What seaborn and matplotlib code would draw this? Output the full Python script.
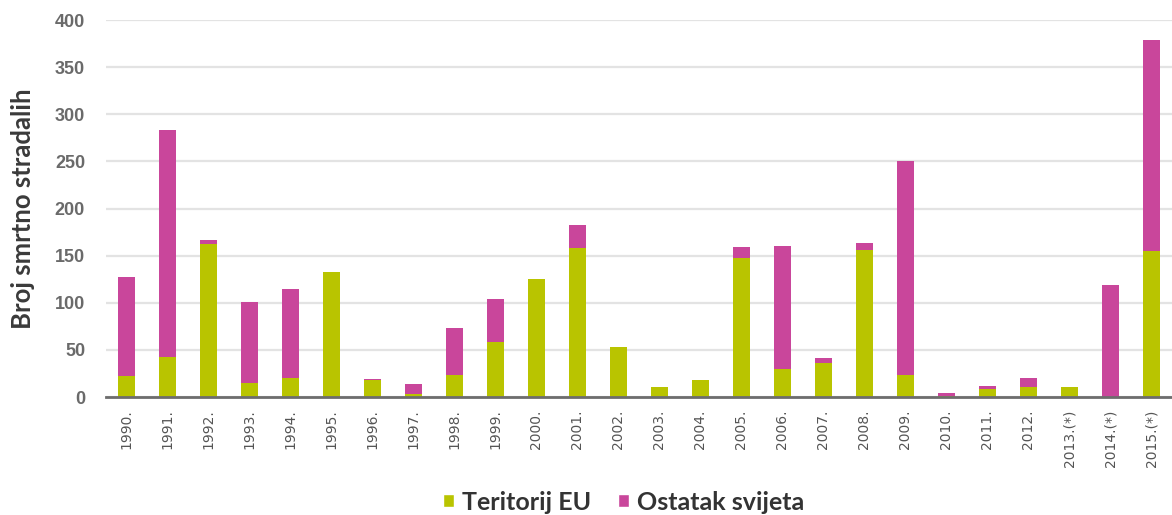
import pandas as pd
import numpy as np

import matplotlib.pyplot as plt
import seaborn as sns
from matplotlib.patches import Patch

# Podaci procitani sa grafikona
godine = ['1990.', '1991.', '1992.', '1993.', '1994.', '1995.', '1996.', '1997.',
          '1998.', '1999.', '2000.', '2001.', '2002.', '2003.', '2004.', '2005.',
          '2006.', '2007.', '2008.', '2009.', '2010.', '2011.', '2012.',
          '2013.(*)', '2014.(*)', '2015.(*)']
teritorij_eu = [22, 42, 162, 15, 20, 133, 18, 3, 23, 58, 125, 158, 53, 11, 18, 148,
                30, 36, 156, 23, 1, 9, 11, 11, 0, 155]
ostatak_svijeta = [105, 241, 5, 86, 95, 0, 1, 11, 50, 46, 0, 25, 0, 0, 0, 11,
                   130, 5, 8, 227, 3, 3, 9, 0, 119, 224]

zelena = '#b9c400'
roza = '#c9469b'

data = pd.DataFrame({'godina': godine, 'eu': teritorij_eu, 'ostalo': ostatak_svijeta})
data['ukupno'] = data['eu'] + data['ostalo']

sns.set_style('white')

fig = plt.figure(figsize=(11.72, 5.15), dpi=100)
ax = fig.add_axes([0.0904, 0.229, 0.9096, 0.732])

# naslagani stupci: prvo ukupno (roza), pa EU preko (zelena)
sns.barplot(data=data, x='godina', y='ukupno', color=roza, width=0.4,
            saturation=1, linewidth=0, ax=ax, zorder=3)
sns.barplot(data=data, x='godina', y='eu', color=zelena, width=0.4,
            saturation=1, linewidth=0, ax=ax, zorder=4)

ax.set_ylim(0, 400)
ax.set_xlim(-0.5, len(godine) - 0.5)
ax.set_yticks(np.arange(0, 401, 50))
ax.yaxis.grid(True, color='#e3e3e3', linewidth=1.6, zorder=0)
ax.set_axisbelow(True)

for s in ['top', 'right', 'left']:
    ax.spines[s].set_visible(False)
ax.spines['bottom'].set_color('#6d6d6d')
ax.spines['bottom'].set_linewidth(2)
ax.spines['bottom'].set_zorder(5)

ax.set_xticks(range(len(godine)))
ax.set_xticklabels(godine, rotation=90, fontsize=10, color='#555555')
ax.set_xticks(np.arange(0.5, len(godine) - 1, 1), minor=True)
ax.tick_params(axis='x', which='major', length=0, pad=9)
ax.tick_params(axis='x', which='minor', length=4, width=1.2, color='#6d6d6d', direction='out')
ax.tick_params(axis='y', length=0, pad=15)
for t in ax.get_yticklabels():
    t.set_family(['Liberation Sans', 'DejaVu Sans'])
    t.set_fontweight('bold')
    t.set_fontsize(13)
    t.set_color('#6a6a6a')

ax.set_xlabel('')
ax.set_ylabel('Broj smrtno stradalih', fontsize=18.5, fontweight='bold', color='#3a3a3a',
              family=['Lato', 'DejaVu Sans'], labelpad=14)

ruke = [Patch(facecolor=zelena, label='Teritorij EU'),
        Patch(facecolor=roza, label='Ostatak svijeta')]
fig.legend(handles=ruke, loc='center', bbox_to_anchor=(0.532, 0.025), ncol=2, frameon=False,
           handlelength=0.45, handleheight=0.45, handletextpad=0.3, columnspacing=1.1,
           prop={'family': ['Lato', 'DejaVu Sans'], 'size': 18, 'weight': 'bold'},
           labelcolor='#333333')

fig.savefig('out.png', dpi=100)
